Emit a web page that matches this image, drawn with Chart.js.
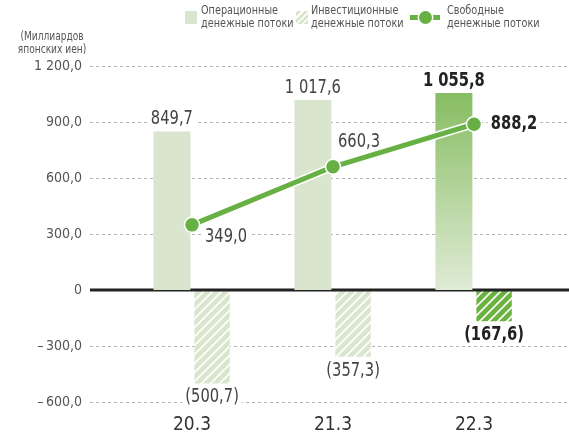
<!DOCTYPE html>
<html>
<head>
<meta charset="utf-8">
<script src="https://cdn.jsdelivr.net/npm/chart.js@4.4.1/dist/chart.umd.min.js"></script>
<style>
html, body { margin: 0; padding: 0; background: #fff; }
#wrap { position: relative; width: 569px; height: 436px; overflow: hidden;
  font-family: "Liberation Sans Narrow", "DejaVu Sans Condensed", sans-serif; }
#chart { position: absolute; left: 0; top: 0; }
.lg { position: absolute; top: 3px; font-size: 12.5px; line-height: 13px; color: #555; white-space: nowrap;
  transform: scaleX(0.86); transform-origin: left top; }
.box { position: absolute; top: 11px; width: 12px; height: 13px; }
.unit { position: absolute; left: 2px; top: 30px; width: 100px; text-align: center; font-size: 12px; line-height: 13px;
  color: #555; white-space: nowrap; transform: scaleX(0.84); transform-origin: center top; }
</style>
</head>
<body>
<div id="wrap">
  <canvas id="chart" width="569" height="436"></canvas>
  <div class="unit">(Миллиардов<br>японских иен)</div>
  <div class="box" style="left:185px;background:#d9e5cc"></div>
  <div class="lg" style="left:201px">Операционные<br>денежные потоки</div>
  <div class="box" style="left:296px;background:repeating-linear-gradient(-45deg,#d9e5cc 0 3px,#fff 3px 4.5px)"></div>
  <div class="lg" style="left:311px">Инвестиционные<br>денежные потоки</div>
  <div style="position:absolute;left:410px;top:15px;width:30px;height:5px;background:#66b044"></div>
  <div style="position:absolute;left:419px;top:11px;width:13px;height:13px;border-radius:50%;background:#66b044;box-shadow:0 0 0 1.5px #fff"></div>
  <div class="lg" style="left:447px">Свободные<br>денежные потоки</div>
</div>
<script>
// ----- data -----
const years = ['20.3', '21.3', '22.3'];
const operating = [849.7, 1017.6, 1055.8];
const investing = [-500.7, -357.3, -167.6];
const freeCash = [349.0, 660.3, 888.2];
const yTicks = [-600, -300, 0, 300, 600, 900, 1200];

const FONT = '"Liberation Sans Narrow", "DejaVu Sans Condensed", sans-serif';

function fmt(v) {
    const parts = Math.abs(v).toFixed(1).split('.');
    return parts[0].replace(/\B(?=(\d{3})+(?!\d))/g, ' ') + ',' + parts[1];
}

// hatch pattern for investing bars
function hatch(bg) {
    const c = document.createElement('canvas');
    c.width = 9; c.height = 9;
    const g = c.getContext('2d');
    g.fillStyle = bg;
    g.fillRect(0, 0, 9, 9);
    g.strokeStyle = '#fff';
    g.lineWidth = 1.6;
    g.beginPath();
    g.moveTo(-1, 10); g.lineTo(10, -1);
    g.moveTo(-5, 5); g.lineTo(5, -5);
    g.moveTo(4, 14); g.lineTo(14, 4);
    g.stroke();
    return g.createPattern(c, 'repeat');
}
const ctx = document.getElementById('chart').getContext('2d');
const hatchLight = hatch('#d9e5cc');
const hatchDark = hatch('#6ab33f');

// gridlines + zero line drawn across the full width
const gridPlugin = {
    id: 'gridLines',
    beforeDatasetsDraw(chart) {
        const { ctx, scales: { y } } = chart;
        ctx.save();
        ctx.setLineDash([3, 3]);
        ctx.strokeStyle = '#b5b5b5';
        ctx.lineWidth = 1;
        y.ticks.forEach(t => {
            if (t.value === 0) return;
            const py = Math.round(y.getPixelForValue(t.value)) + 0.5;
            ctx.beginPath();
            ctx.moveTo(90, py);
            ctx.lineTo(chart.width, py);
            ctx.stroke();
        });
        ctx.restore();
    },
    beforeDatasetDraw(chart, args) {
        // white outline under the free cash flow line
        if (args.index !== 2) return;
        const { ctx } = chart;
        const pts = chart.getDatasetMeta(2).data;
        ctx.save();
        ctx.strokeStyle = '#fff';
        ctx.lineWidth = 8;
        ctx.beginPath();
        pts.forEach((p, i) => i ? ctx.lineTo(p.x, p.y) : ctx.moveTo(p.x, p.y));
        ctx.stroke();
        ctx.restore();
    },
    afterDatasetDraw(chart, args) {
        if (args.index !== 1) return;
        const { ctx, scales: { y } } = chart;
        const py = y.getPixelForValue(0);
        ctx.save();
        ctx.strokeStyle = '#222';
        ctx.lineWidth = 3;
        ctx.beginPath();
        ctx.moveTo(90, py);
        ctx.lineTo(chart.width, py);
        ctx.stroke();
        ctx.restore();
    }
};

// value labels
const labelPlugin = {
    id: 'valueLabels',
    afterDatasetsDraw(chart) {
        const { ctx } = chart;
        ctx.save();
        ctx.textAlign = 'center';
        ctx.textBaseline = 'middle';
        const draw = (text, x, y, bold, bg) => {
            ctx.font = (bold ? 'bold ' : '') + '19px ' + FONT;
            const w = ctx.measureText(text).width * 0.86;
            if (bg) {
                ctx.fillStyle = '#fff';
                ctx.fillRect(x - w / 2 - 3, y - 9, w + 6, 18);
            }
            ctx.fillStyle = bold ? '#222' : '#444';
            ctx.save();
            ctx.translate(x, y);
            ctx.scale(0.86, 1);
            ctx.fillText(text, 0, 0);
            ctx.restore();
        };
        chart.getDatasetMeta(0).data.forEach((b, i) => {
            draw(fmt(operating[i]), b.x, b.y - 12, i === 2, true);
        });
        chart.getDatasetMeta(1).data.forEach((b, i) => {
            draw('(' + fmt(investing[i]) + ')', b.x, b.y + 14, i === 2, true);
        });
        const offs = [[34, 12], [26, -25], [40, 0]];
        chart.getDatasetMeta(2).data.forEach((p, i) => {
            draw(fmt(freeCash[i]), p.x + offs[i][0], p.y + offs[i][1], i === 2, i !== 1);
        });
        ctx.restore();
    }
};

new Chart(ctx, {
    type: 'bar',
    data: {
        labels: years,
        datasets: [
            {
                label: 'Операционные денежные потоки',
                data: operating,
                order: 2,
                backgroundColor: c => {
                    if (c.dataIndex !== 2) return '#d9e5cc';
                    const y = c.chart.scales.y;
                    if (!y) return '#8cc06a';
                    const g = c.chart.ctx.createLinearGradient(0, y.getPixelForValue(operating[2]), 0, y.getPixelForValue(0));
                    g.addColorStop(0, '#87bd62');
                    g.addColorStop(1, '#e0ebd6');
                    return g;
                },
                categoryPercentage: 0.57,
                barPercentage: 0.92
            },
            {
                label: 'Инвестиционные денежные потоки',
                data: investing,
                order: 2,
                backgroundColor: c => c.dataIndex === 2 ? hatchDark : hatchLight,
                categoryPercentage: 0.57,
                barPercentage: 0.88
            },
            {
                type: 'line',
                label: 'Свободные денежные потоки',
                data: freeCash,
                order: 0,
                borderColor: '#66b044',
                borderWidth: 5,
                pointRadius: 7.5,
                pointBackgroundColor: '#66b044',
                pointBorderColor: '#fff',
                pointBorderWidth: 1.5,
                tension: 0
            }
        ]
    },
    options: {
        responsive: false,
        animation: false,
        layout: { padding: { top: 66, right: 24.5, left: 0, bottom: 0 } },
        plugins: {
            legend: { display: false },
            tooltip: { enabled: false }
        },
        scales: {
            x: {
                grid: { display: false, drawTicks: false },
                border: { display: false },
                ticks: { color: '#333', font: { family: FONT, size: 19 }, padding: 12 },
                afterFit: s => { s.height = 34; s.paddingLeft = 0; s.paddingRight = 0; }
            },
            y: {
                min: yTicks[0],
                max: yTicks[yTicks.length - 1],
                afterBuildTicks: s => { s.ticks = yTicks.map(v => ({ value: v })); },
                grid: { display: false, drawTicks: false },
                border: { display: false },
                ticks: {
                    color: '#555',
                    font: { family: FONT, size: 14 },
                    padding: 39.5,
                    callback: v => v === 0 ? '0' : (v < 0 ? '\u2013\u2009' : '') + fmt(v)
                },
                afterFit: s => { s.width = 121.5; s.paddingTop = 0; s.paddingBottom = 0; }
            }
        }
    },
    plugins: [gridPlugin, labelPlugin]
});
</script>
</body>
</html>
